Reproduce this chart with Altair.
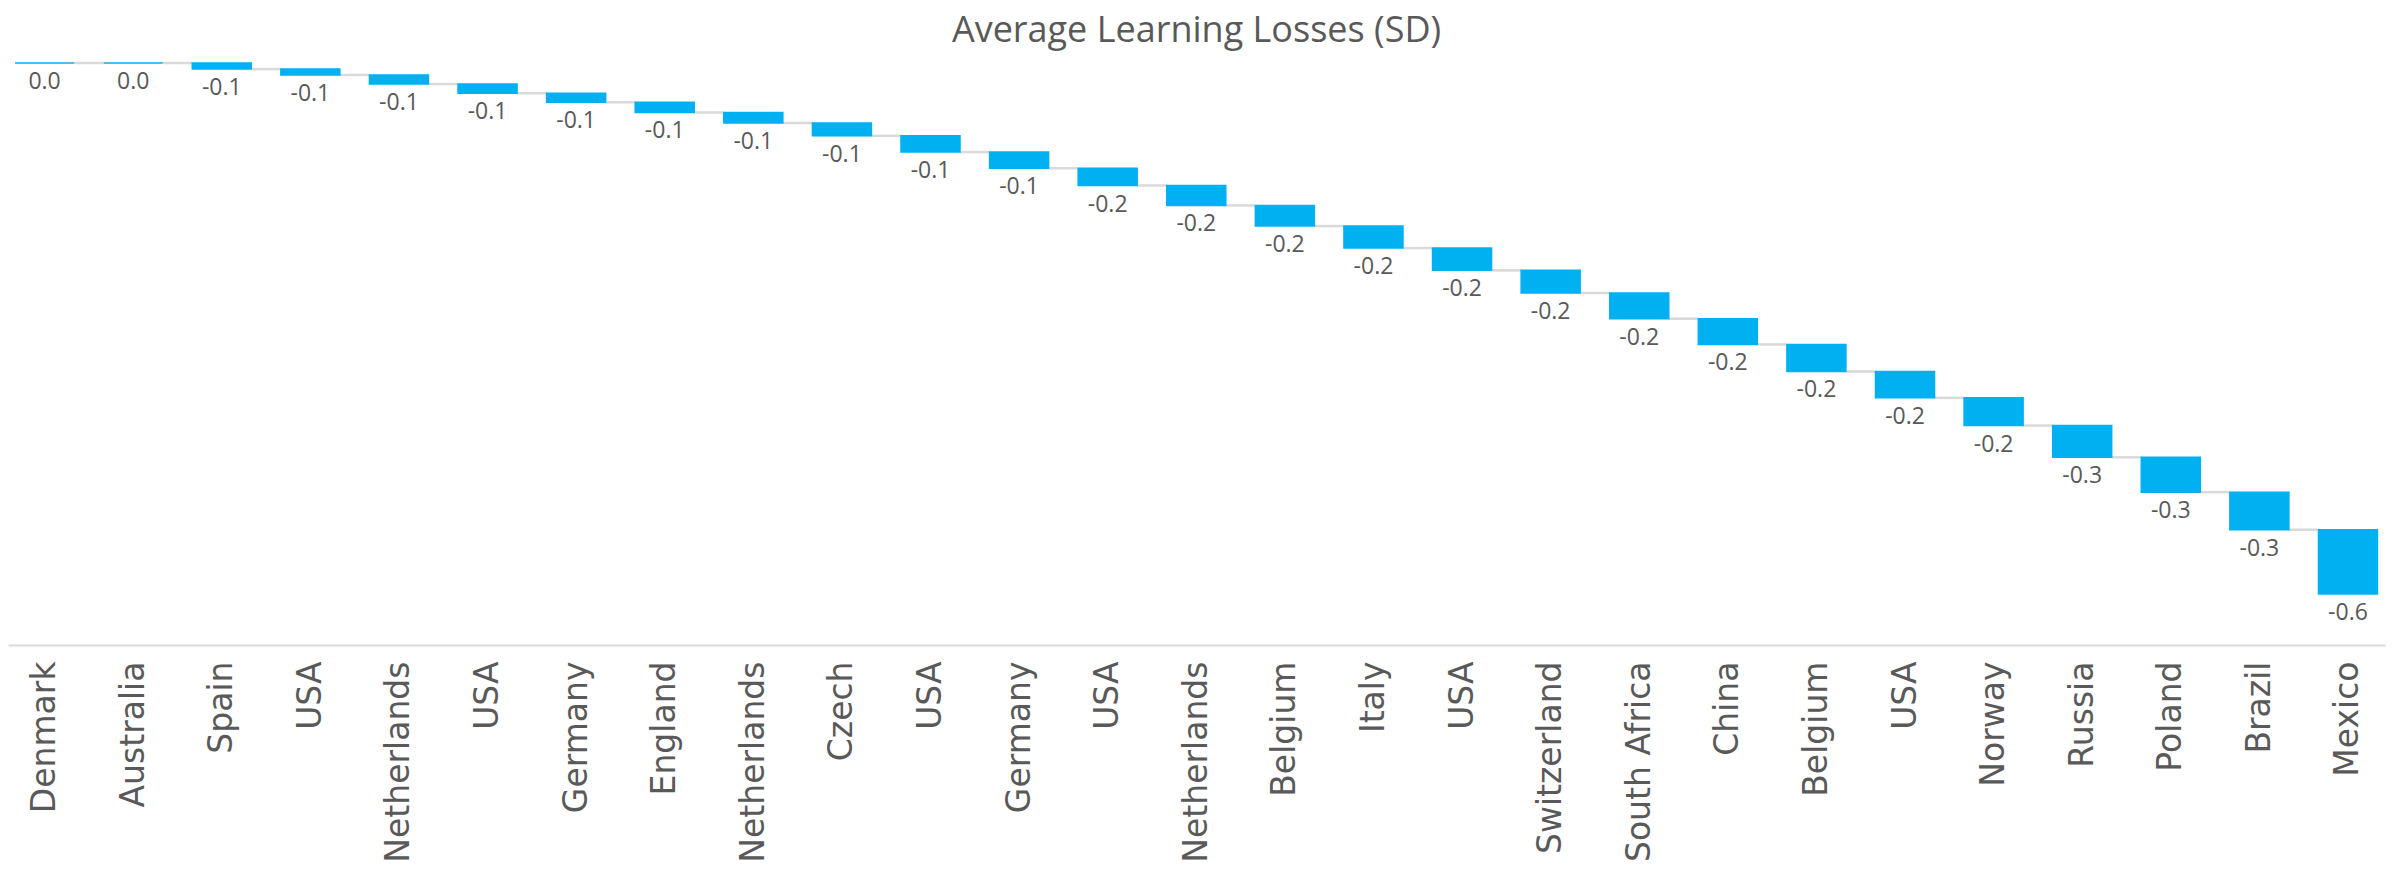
import json
import altair as alt
import pandas as pd

countries = ["Denmark", "Australia", "Spain", "USA", "Netherlands", "USA", "Germany",
             "England", "Netherlands", "Czech", "USA", "Germany", "USA", "Netherlands",
             "Belgium", "Italy", "USA", "Switzerland", "South Africa", "China", "Belgium",
             "USA", "Norway", "Russia", "Poland", "Brazil", "Mexico"]
losses = [0.0, 0.0, -0.054, -0.052, -0.081, -0.081, -0.081, -0.090, -0.093, -0.114,
          -0.144, -0.144, -0.153, -0.177, -0.183, -0.195, -0.198, -0.201, -0.228,
          -0.228, -0.240, -0.234, -0.246, -0.282, -0.309, -0.333, -0.570]
title_text = "Average Learning Losses (SD)"

BLUE = "#00B0F0"
GREY_TEXT = "#595959"
GREY_LINE = "#D9D9D9"
HALF = 0.333

df = pd.DataFrame({"idx": list(range(len(countries))), "country": countries, "value": losses})
df["end"] = df["value"].cumsum()
df["start"] = df["end"] - df["value"]
df["lo"] = df["idx"] - HALF
df["hi"] = df["idx"] + HALF
df["nextlo"] = df["lo"].shift(-1)
df["label"] = [f"{round(v, 1) + 0.0:.1f}" for v in df["value"]]
df["hasnext"] = df["nextlo"].notna()
df["nextlo"] = df["nextlo"].fillna(df["hi"])

W, H = 2377, 582
xscale = alt.Scale(domain=[-0.413, 26.418], nice=False, zero=False)
yscale = alt.Scale(domain=[-5.164, 0], nice=False, zero=False)

label_expr = json.dumps(countries) + "[datum.value]"
xaxis = alt.Axis(values=list(range(len(countries))), labelExpr=label_expr,
                 labelAngle=270, labelFont="DejaVu Sans", labelFontSize=33,
                 labelColor=GREY_TEXT, ticks=False, grid=False, labelLimit=0,
                 domainColor=GREY_LINE, domainWidth=2, labelPadding=16,
                 title=None, labelFlush=False, labelOverlap=False)

base = alt.Chart(df)

bars = base.mark_bar(color=BLUE, stroke=BLUE, strokeWidth=1.5).encode(
    x=alt.X("lo:Q", scale=xscale, axis=xaxis),
    x2="hi:Q",
    y=alt.Y("start:Q", scale=yscale, axis=None),
    y2="end:Q",
)

connectors = base.transform_filter("datum.hasnext").mark_rule(
    color=GREY_LINE, strokeWidth=2.5
).encode(
    x=alt.X("hi:Q", scale=xscale, axis=xaxis),
    x2="nextlo:Q",
    y=alt.Y("end:Q", scale=yscale, axis=None),
)

labels = base.mark_text(font="Open Sans", fontSize=23, color=GREY_TEXT,
                        baseline="top", align="center", dy=8).encode(
    x=alt.X("idx:Q", scale=xscale, axis=xaxis),
    y=alt.Y("end:Q", scale=yscale, axis=None),
    text="label:N",
)

chart = alt.layer(connectors, bars, labels).properties(
    width=W, height=H,
    title=alt.Title(title_text, font="Open Sans", fontSize=36, fontWeight="normal",
                    color=GREY_TEXT, anchor="middle", offset=12),
    autosize=alt.AutoSizeParams(type="none"),
    padding={"left": 0, "top": 55, "right": 10, "bottom": 222},
).configure_view(strokeWidth=0)

chart.save("out.html", embed_options={"renderer": "svg", "actions": False})
